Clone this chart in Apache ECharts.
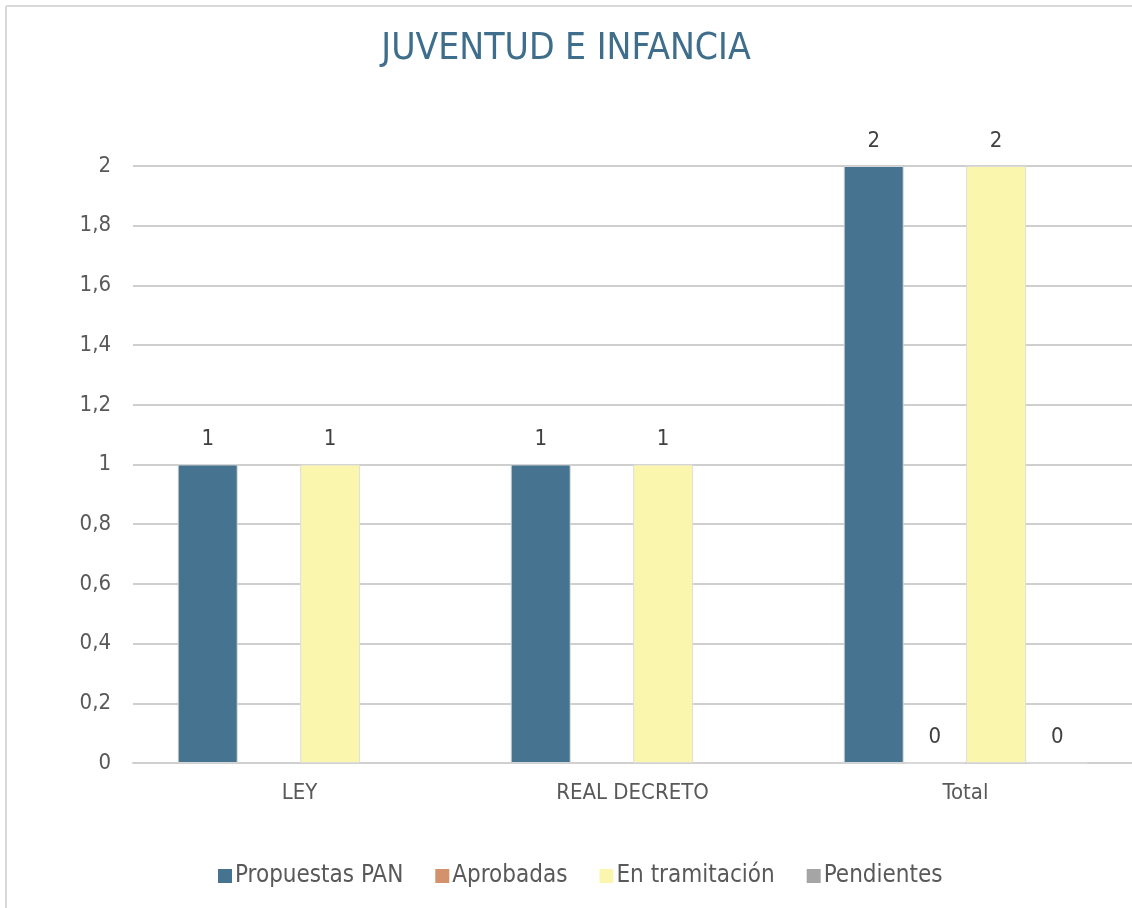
<!DOCTYPE html>
<html>
<head>
<meta charset="utf-8">
<script src="https://cdn.jsdelivr.net/npm/echarts@6/dist/echarts.min.js"></script>
<style>
html,body{margin:0;padding:0;background:#fff;overflow:hidden;}
#chart{width:1132px;height:908px;}
</style>
</head>
<body>
<div id="chart"></div>
<script>
const categories = ['LEY', 'REAL DECRETO', 'Total'];
const seriesNames = ['Propuestas PAN', 'Aprobadas', 'En tramitación', 'Pendientes'];
const propuestasPAN = [1, 1, 2];
const aprobadas = [null, null, 0];
const enTramitacion = [1, 1, 2];
const pendientes = [null, null, 0];
const yTicks = [0, 0.2, 0.4, 0.6, 0.8, 1, 1.2, 1.4, 1.6, 1.8, 2];

const colors = ['#46738f', '#d4926c', '#faf6ad', '#a5a5a5'];
const FONT = '"DejaVu Sans Condensed", "DejaVu Sans", sans-serif';
const values = [propuestasPAN, aprobadas, enTramitacion, pendientes];

const chart = echarts.init(document.getElementById('chart'), null, {renderer: 'canvas'});
chart.setOption({
  animation: false,
  backgroundColor: '#ffffff',
  color: colors,
  title: {
    text: 'JUVENTUD E INFANCIA',
    left: 'center',
    top: 26,
    textStyle: {color: '#3e6e8c', fontFamily: FONT, fontSize: 37, fontWeight: 'normal'}
  },
  graphic: [
    {type: 'line', shape: {x1: 6, y1: 6, x2: 1132, y2: 6}, style: {stroke: '#d9d9d9', lineWidth: 2}, silent: true},
    {type: 'line', shape: {x1: 6, y1: 6, x2: 6, y2: 908}, style: {stroke: '#d9d9d9', lineWidth: 2}, silent: true}
  ],
  legend: {
    bottom: 15,
    left: 213,
    itemWidth: 14,
    itemHeight: 14,
    itemGap: 32,
    icon: 'rect',
    itemStyle: {borderWidth: 0},
    textStyle: {color: '#595959', fontFamily: FONT, fontSize: 24, padding: [0, 0, 0, -2]},
    data: seriesNames
  },
  grid: {left: 133, right: 0, top: 166, bottom: 145, containLabel: false},
  xAxis: {
    type: 'category',
    data: categories,
    axisLine: {show: true, lineStyle: {color: '#d0d0d0', width: 2}},
    axisTick: {show: false},
    axisLabel: {color: '#595959', fontFamily: FONT, fontSize: 22, margin: 19}
  },
  yAxis: {
    type: 'value',
    min: 0,
    max: 2,
    interval: 0.2,
    axisLine: {show: false},
    axisTick: {show: false},
    splitLine: {lineStyle: {color: '#cfcfcf', width: 2}},
    axisLabel: {
      color: '#595959', fontFamily: FONT, fontSize: 22, margin: 22,
      formatter: function (v) {
        const t = yTicks.find(x => Math.abs(x - v) < 1e-9);
        return String(t !== undefined ? t : v).replace('.', ',');
      }
    }
  },
  series: seriesNames.map((name, i) => ({
    name: name,
    type: 'bar',
    data: values[i],
    barWidth: 60,
    barGap: '2%',
    itemStyle: {color: colors[i], borderColor: 'rgba(220,220,220,0.9)', borderWidth: 1},
    label: {
      show: true,
      position: 'top',
      distance: 14,
      color: '#404040',
      fontFamily: FONT,
      fontSize: 22,
      formatter: p => (p.value === null || p.value === undefined) ? '' : String(p.value)
    }
  }))
});
</script>
</body>
</html>
